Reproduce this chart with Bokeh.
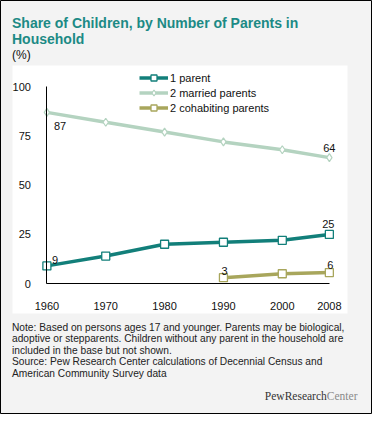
from bokeh.plotting import figure
from bokeh.models import (Range1d, FixedTicker, Label, Legend, LegendItem,
                          ColumnDataSource, BoxAnnotation)
from bokeh.embed import file_html
from bokeh.resources import INLINE
from bokeh.core.properties import value

# ---- data ----
years = [1960, 1970, 1980, 1990, 2000, 2008]
one_parent = [9, 14, 20, 21, 22, 25]
married = [87, 82, 77, 72, 68, 64]
cohab_years = [1990, 2000, 2008]
cohabiting = [3, 5, 5.6]
x_ticks = [1960, 1970, 1980, 1990, 2000, 2008]
y_ticks = [0, 25, 50, 75, 100]
series_names = ["1 parent", "2 married parents", "2 cohabiting parents"]

title_lines = ["Share of Children, by Number of Parents in", "Household"]
unit_text = "(%)"
note_lines = [
    "Note: Based on persons ages 17 and younger. Parents may be biological,",
    "adoptive or stepparents. Children without any parent in the household are",
    "included in the base but not shown.",
    "Source: Pew Research Center calculations of Decennial Census and",
    "American Community Survey data",
]

# ---- styles ----
TEAL = "#127f7a"
SAGE = "#b4d3c0"
OLIVE = "#a8a65c"
TITLE_C = "#1c8a85"
BG = "#f3f3f3"
FONT = "Liberation Sans"

W, H = 372, 414
X0, X1 = 1952.116, 2015.33
Y0, Y1 = -66.52, 143.85


def dx(px):  # canvas pixel (from left) -> data x
    return X0 + px / W * (X1 - X0)


def dy(py):  # canvas pixel (from top) -> data y
    return Y1 - py / H * (Y1 - Y0)


p = figure(frame_width=W, frame_height=H, min_border=0,
           x_range=Range1d(X0, X1), y_range=Range1d(Y0, Y1),
           output_backend="svg", toolbar_location=None, tools="")
p.title.visible = False
p.background_fill_color = BG
p.border_fill_color = BG
p.outline_line_color = "black"
p.outline_line_width = 1
p.grid.visible = False

# white chart panel
p.add_layout(BoxAnnotation(left=dx(12), right=dx(347), top=dy(65), bottom=dy(313),
                           fill_color="white", fill_alpha=1, line_color=None,
                           level="underlay"))

# axes inside the white panel
xa = p.xaxis[0]
xa.fixed_location = 0
xa.bounds = (1960, 2008)
xa.ticker = FixedTicker(ticks=x_ticks)
xa.major_tick_line_color = None
xa.minor_tick_line_color = None
xa.major_label_standoff = 12
xa.axis_line_color = "black"
xa.major_label_text_font = FONT
xa.major_label_text_font_size = "11px"
xa.major_label_text_color = "#111111"

ya = p.yaxis[0]
ya.fixed_location = 1960
ya.bounds = (0, 100)
ya.ticker = FixedTicker(ticks=y_ticks)
ya.major_tick_line_color = None
ya.minor_tick_line_color = None
ya.major_label_standoff = 10
ya.axis_line_color = "black"
ya.major_label_text_font = FONT
ya.major_label_text_font_size = "11px"
ya.major_label_text_color = "#111111"

# ---- series ----
l1 = p.line(years, one_parent, line_color=TEAL, line_width=3.5)
m1 = p.scatter(years, one_parent, marker="square", size=8, fill_color="white",
               line_color=TEAL, line_width=1.3)
l2 = p.line(years, married, line_color=SAGE, line_width=3.5)
m2 = p.scatter(years, married, marker="diamond", size=8, fill_color="white",
               line_color=SAGE, line_width=1.2)
l3 = p.line(cohab_years, cohabiting, line_color=OLIVE, line_width=3.5)
m3 = p.scatter(cohab_years, cohabiting, marker="square", size=8, fill_color="white",
               line_color=OLIVE, line_width=1.3)

legend = Legend(items=[LegendItem(label=series_names[0], renderers=[l1, m1]),
                       LegendItem(label=series_names[1], renderers=[l2, m2]),
                       LegendItem(label=series_names[2], renderers=[l3, m3])],
                location=(139, 299), orientation="vertical",
                padding=0, margin=0, spacing=0,
                glyph_width=29, glyph_height=15, label_height=15,
                label_standoff=2, border_line_color=None,
                background_fill_alpha=0,
                label_text_font=FONT, label_text_font_size="11px",
                label_text_color="#111111")
p.add_layout(legend)

# ---- value labels ----
lab_x = [years[0], years[-1], years[0], years[-1], cohab_years[0], cohab_years[-1]]
lab_y = [married[0], married[-1], one_parent[0], one_parent[-1],
         cohabiting[0], cohabiting[-1]]
lab_src = ColumnDataSource(dict(
    x=lab_x, y=lab_y, text=[str(round(v)) for v in lab_y],
    xo=[7, 0, 5, -1, 1, 1], yo=[14, -10, -6, -10, -7, -8],
    al=["left", "center", "left", "center", "center", "center"]))
p.text(x="x", y="y", text="text", x_offset="xo", y_offset="yo",
       text_align="al", text_baseline="alphabetic", source=lab_src,
       text_font=value(FONT), text_font_size="11px", text_color="#111111")


# ---- texts outside the white panel ----
def add_label(txt, x, y, size, color="#111111", style="normal", align="left",
              font=FONT):
    p.add_layout(Label(x=dx(x), y=dy(y), text=txt,
                       text_font=font, text_font_size=size, text_color=color,
                       text_font_style=style, text_align=align,
                       text_baseline="alphabetic"))


add_label(title_lines[0], 11.5, 22.5, "14px", TITLE_C, "bold")
add_label(title_lines[1], 11.5, 38, "14px", TITLE_C, "bold")
add_label(unit_text, 11.5, 54, "12px")
for txt, yy in zip(note_lines, [326.5, 338, 349.5, 361, 372.6]):
    add_label(txt, 11.5, yy, "10.2px", "#222222")

add_label("Center", 357, 395.7, "11.5px", "#8a8a8a", font="Liberation Serif", align="right")
add_label("PewResearch", 326.3, 395.7, "11.5px", "#333333", font="Liberation Serif",
          align="right")

open("out.html", "w").write(file_html(p, INLINE))
